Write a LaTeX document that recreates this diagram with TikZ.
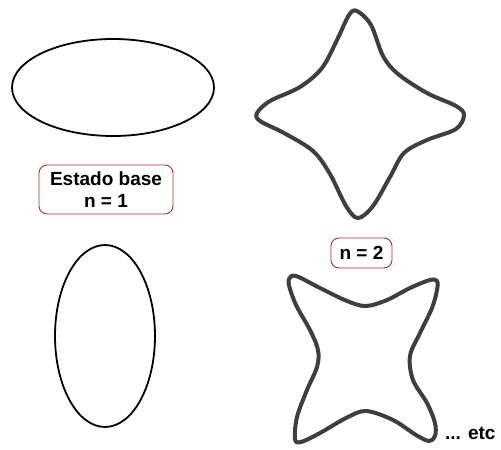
\documentclass[tikz,border=0pt]{standalone}
\usepackage{fontspec}
\setmainfont{Liberation Sans}

\definecolor{boxred}{RGB}{165,45,45}
\definecolor{wavegray}{RGB}{62,62,62}

\begin{document}
\begin{tikzpicture}
[
	x=1pt, y=-1pt,
	orbit/.style={draw=black,line width=1.8pt},
	wave/.style={draw=wavegray,line width=4pt,line join=round},
	tag/.style={draw=boxred,line width=0.9pt,rounded corners=8pt,fill=white,
		align=center,inner sep=0pt,font=\bfseries\fontsize{19}{22}\selectfont}
]

	\useasboundingbox (0,0) rectangle (501,450);

	% ground state
	\draw[orbit] (113,87.5) ellipse [x radius=101, y radius=48.5];
	\draw[orbit] (105,336) ellipse [x radius=50, y radius=91];
	\node[tag,minimum width=134pt,minimum height=49pt] (base) at (106,189.5) {Estado base\\n = 1};

	% n = 2
	\draw[wave] plot[smooth cycle,tension=0.55] coordinates {
		(357,11) (371,25) (383,56) (398,74) (427,93) (456,106) (464,115)
		(456,129) (427,140) (404,153) (390,177) (373,206) (358,218) (346,206)
		(330,174) (313,151) (284,133) (260,121) (257,113) (270,101) (300,87)
		(322,68) (337,40) (349,15)};
	\node[tag,minimum width=61pt,minimum height=30pt] (ndos) at (361.5,253) {n = 2};

	\draw[wave] plot[smooth cycle,tension=0.55] coordinates {
		(296,276) (320,288) (347,301) (366,306) (387,300) (410,288) (430,280)
		(437,281) (437,290) (432,308) (420,333) (410,356) (413,380) (427,403)
		(435,423) (435,436) (429,441) (416,435) (393,420) (366,411) (346,418)
		(320,433) (301,442) (295,439) (297,417) (307,390) (317,367) (318,350)
		(310,330) (297,307) (290,289) (289,279)};

	\node[font=\bfseries\fontsize{19}{22}\selectfont,anchor=east] (etc) at (499,433) {... etc};

\end{tikzpicture}
\end{document}
